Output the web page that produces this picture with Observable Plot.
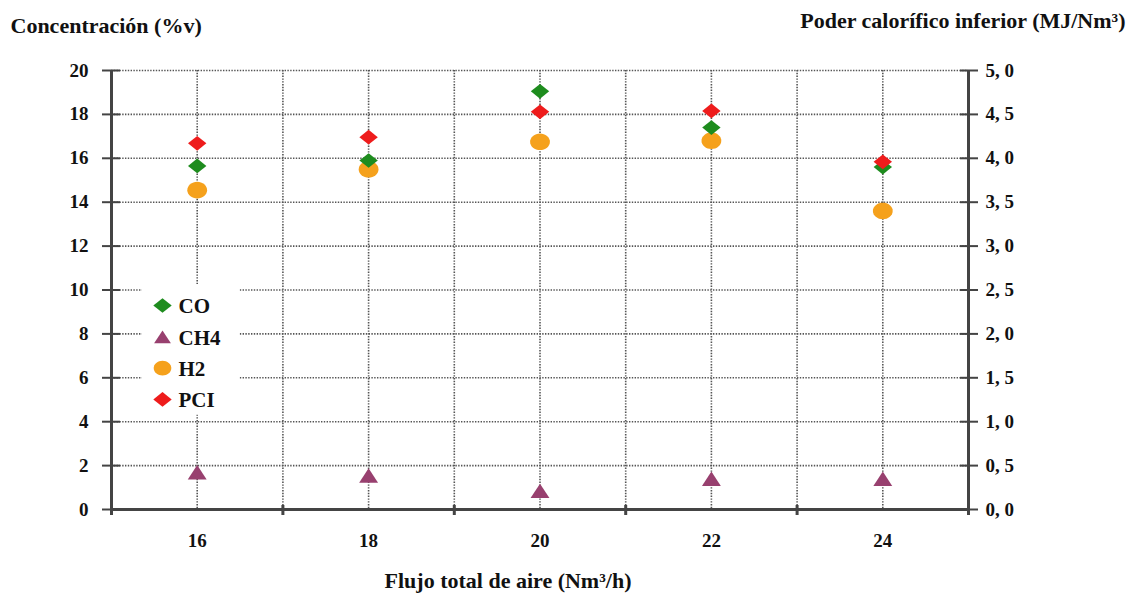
<!DOCTYPE html>
<html>
<head>
<meta charset="utf-8">
<script src="https://cdn.jsdelivr.net/npm/d3@7"></script>
<script src="https://cdn.jsdelivr.net/npm/@observablehq/plot@0.6"></script>
<style>
  html, body { margin: 0; padding: 0; background: #fff; }
  #chart { width: 1131px; height: 599px; }
  #chart svg g[aria-label$="tick label"], #chart svg g[aria-label$="tick label"] text { font-size: 19px !important; font-weight: bold; fill: #111; }
</style>
</head>
<body>
<div id="chart"></div>
<script>
// ---- data ----
const flujo = [16, 18, 20, 22, 24];                 // Flujo total de aire (Nm3/h)
const co    = [15.65, 15.9, 19.05, 17.4, 15.6];     // CO (%v)
const ch4   = [1.7, 1.55, 0.85, 1.4, 1.4];          // CH4 (%v)
const h2    = [14.55, 15.5, 16.75, 16.8, 13.6];     // H2 (%v)
const pci   = [4.17, 4.24, 4.53, 4.54, 3.96];       // PCI (MJ/Nm3)

const leftTicks  = [0, 2, 4, 6, 8, 10, 12, 14, 16, 18, 20];
const xLabelTicks = [16, 18, 20, 22, 24];
const xGridTicks  = [15, 16, 17, 18, 19, 20, 21, 22, 23, 24, 25];
const xBoundTicks = [15, 17, 19, 21, 23, 25];
const pciFactor = 4; // right axis 0..5 maps on left axis 0..20

const seriesNames  = ["CO", "CH4", "H2", "PCI"];
const seriesColors = ["#1e8c1e", "#98406f", "#f5a11c", "#ee1c1c"];

const yTitleLeft  = "Concentración (%v)";
const yTitleRight = "Poder calorífico inferior (MJ/Nm³)";
const xTitle      = "Flujo total de aire (Nm³/h)";

const rows = flujo.map((f, i) => ({f, co: co[i], ch4: ch4[i], h2: h2[i], pci: pci[i] * pciFactor}));

// custom symbols
const wideDiamond = {draw(ctx, size) { const r = Math.sqrt(size / Math.PI); const w = r * 1.15, h = r * 0.92;
  ctx.moveTo(-w, 0); ctx.lineTo(0, -h); ctx.lineTo(w, 0); ctx.lineTo(0, h); ctx.closePath(); }};
const ellipse = {draw(ctx, size) { const r = Math.sqrt(size / Math.PI); const w = r * 1.1, h = r * 0.92;
  const n = 32; for (let k = 0; k < n; k++) { const a = 2 * Math.PI * k / n;
    const px = w * Math.cos(a), py = h * Math.sin(a); if (k === 0) ctx.moveTo(px, py); else ctx.lineTo(px, py); }
  ctx.closePath(); }};
const tri = {draw(ctx, size) { const r = Math.sqrt(size / Math.PI); const w = r * 1.05, h = r * 0.8;
  ctx.moveTo(-w, h); ctx.lineTo(0, -h); ctx.lineTo(w, h); ctx.closePath(); }};
const symbols = [wideDiamond, tri, ellipse, wideDiamond];

const gridStyle = {stroke: "#555", strokeOpacity: 1, strokeWidth: 1.6, strokeDasharray: "1.4,1.4"};
const axisColor = "#444";
const font = "'Liberation Serif', 'DejaVu Serif', serif";
const noLabel = () => "";

const legendMarks = seriesNames.flatMap((name, i) => [
  Plot.dot([name], {frameAnchor: "top-left", dx: 51, dy: 235 + i * 31.3, r: 8, symbol: symbols[i], fill: seriesColors[i], stroke: "none"}),
  Plot.text([name], {frameAnchor: "top-left", dx: 67, dy: 236 + i * 31.3, text: d => d, textAnchor: "start", lineAnchor: "middle",
    fontSize: 21, fontWeight: "bold", fill: "#111"})
]);

const chart = Plot.plot({
  width: 1131, height: 599,
  marginTop: 70, marginBottom: 90, marginLeft: 111, marginRight: 163,
  style: {fontFamily: font, fontWeight: "bold", fontSize: "16px", color: "#111", background: "#fff"},
  x: {domain: [15, 25]},
  y: {domain: [0, 20]},
  marks: [
    Plot.gridY(leftTicks, gridStyle),
    Plot.gridX(xGridTicks, gridStyle),
    // legend background box
    Plot.rect([0], {x1: () => 15.36, x2: () => 16.5, y1: () => 4.3, y2: () => 10.25, fill: "#fff"}),
    Plot.ruleY([0], {stroke: axisColor, strokeWidth: 3}),
    Plot.ruleX([15, 25], {stroke: axisColor, strokeWidth: 3}),
    // left axis: crossing ticks
    Plot.axisY(leftTicks, {anchor: "left", tickSize: 9, tickPadding: 14, stroke: axisColor, strokeWidth: 2, label: null}),
    Plot.axisY(leftTicks, {anchor: "left", tickSize: -9, tickFormat: noLabel, stroke: axisColor, strokeWidth: 2, label: null}),
    // right axis
    Plot.axisY(leftTicks, {anchor: "right", tickSize: 9, tickPadding: 8, stroke: axisColor, strokeWidth: 2, label: null,
      tickFormat: d => (d / pciFactor).toFixed(1).replace(".", ", ")}),
    Plot.axisY(leftTicks, {anchor: "right", tickSize: -9, tickFormat: noLabel, stroke: axisColor, strokeWidth: 2, label: null}),
    // bottom axis
    Plot.axisX(xLabelTicks, {anchor: "bottom", tickSize: 0, tickPadding: 24, label: null}),
    Plot.axisX(xBoundTicks, {anchor: "bottom", tickSize: 6, tickFormat: noLabel, stroke: axisColor, strokeWidth: 3, label: null}),
    Plot.axisX(xBoundTicks, {anchor: "bottom", tickSize: -4, tickFormat: noLabel, stroke: axisColor, strokeWidth: 3, label: null}),
    // data
    Plot.dot(rows, {x: "f", y: "ch4", r: 9, symbol: tri, fill: seriesColors[1]}),
    Plot.dot(rows, {x: "f", y: "h2", r: 9, symbol: ellipse, fill: seriesColors[2]}),
    Plot.dot(rows, {x: "f", y: "co", r: 8, symbol: wideDiamond, fill: seriesColors[0]}),
    Plot.dot(rows, {x: "f", y: "pci", r: 8, symbol: wideDiamond, fill: seriesColors[3]}),
    ...legendMarks,
    // titles
    Plot.text([yTitleLeft], {frameAnchor: "top-left", dx: -101, dy: -45, text: d => d, textAnchor: "start", lineAnchor: "middle", fontSize: 22, fontWeight: "bold", fill: "#111"}),
    Plot.text([yTitleRight], {frameAnchor: "top-right", dx: 157, dy: -50, text: d => d, textAnchor: "end", lineAnchor: "middle", fontSize: 22, fontWeight: "bold", fill: "#111"}),
    Plot.text([xTitle], {frameAnchor: "bottom", dx: -32, dy: 71, text: d => d, textAnchor: "middle", lineAnchor: "middle", fontSize: 22, fontWeight: "bold", fill: "#111"})
  ]
});
document.getElementById("chart").appendChild(chart);
</script>
</body>
</html>
